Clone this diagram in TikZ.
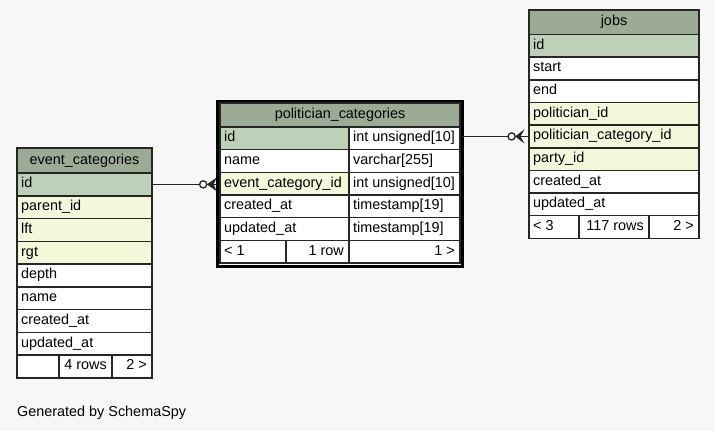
\documentclass[tikz,border=0pt]{standalone}
\usepackage{fontspec}
\setmainfont{Liberation Sans}

\definecolor{bg}{HTML}{F7F7F7}
\definecolor{thead}{HTML}{9BAB96}
\definecolor{pkey}{HTML}{BED1B8}
\definecolor{fkey}{HTML}{F4F7DA}
\definecolor{rule}{HTML}{262626}

\newcommand{\cellfont}{\fontsize{14.4}{16}\selectfont}

\tikzset{
  cellbox/.style={draw=rule, line width=1.5pt, rectangle, anchor=north west,
                  inner sep=0pt, outer sep=0pt},
  celltext/.style={inner sep=0pt, font=\cellfont, text=black},
  conn/.style={draw=rule, line width=1.3pt},
  crowfoot/.style={draw=rule, fill=rule, line width=0.9pt, line join=miter},
  focusframe/.style={draw=black, line width=3.2pt, rectangle, anchor=north west,
                     inner sep=0pt, outer sep=0pt},
}

% cell: name, x, y, width, height, fill
\newcommand{\tcell}[6]{%
  \node[cellbox, fill=#6, minimum width=#4pt, minimum height=#5pt] (#1) at (#2,#3) {};}
% texts placed in a cell: left, right, centred
\newcommand{\ltxt}[2]{\node[celltext, anchor=base west] (#1-t) at ([xshift=4pt,yshift=-3.5pt]#1.west) {#2};}
\newcommand{\rtxt}[2]{\node[celltext, anchor=base east] (#1-t) at ([xshift=-5pt,yshift=-3.5pt]#1.east) {#2};}
\newcommand{\ctxt}[2]{\node[celltext, anchor=base] (#1-t) at ([yshift=-3.5pt]#1.center) {#2};}

\begin{document}
\begin{tikzpicture}[x=1pt, y=-1pt]
  \path[fill=bg] (0,0) rectangle (715,431);
  \useasboundingbox (0,0) rectangle (715,431);

  % ---------------- event_categories ----------------
  \tcell{ec-h}{17}{148}{135}{25}{thead}\ctxt{ec-h}{event\_categories}
  \tcell{ec-id}{17}{173}{135}{22.75}{pkey}\ltxt{ec-id}{id}
  \tcell{ec-par}{17}{195.75}{135}{22.75}{fkey}\ltxt{ec-par}{parent\_id}
  \tcell{ec-lft}{17}{218.5}{135}{22.75}{fkey}\ltxt{ec-lft}{lft}
  \tcell{ec-rgt}{17}{241.25}{135}{22.75}{fkey}\ltxt{ec-rgt}{rgt}
  \tcell{ec-dep}{17}{264}{135}{22.75}{white}\ltxt{ec-dep}{depth}
  \tcell{ec-nam}{17}{286.75}{135}{22.75}{white}\ltxt{ec-nam}{name}
  \tcell{ec-cre}{17}{309.5}{135}{22.75}{white}\ltxt{ec-cre}{created\_at}
  \tcell{ec-upd}{17}{332.25}{135}{22.75}{white}\ltxt{ec-upd}{updated\_at}
  \tcell{ec-f1}{17}{355}{42}{22.75}{white}
  \tcell{ec-f2}{59}{355}{53}{22.75}{white}\rtxt{ec-f2}{4 rows}
  \tcell{ec-f3}{112}{355}{40}{22.75}{white}\rtxt{ec-f3}{2 >}

  % ---------------- politician_categories ----------------
  \node[focusframe, minimum width=245.1pt, minimum height=165.1pt] (pcframe) at (217.2,101.7) {};
  \tcell{pc-h}{220}{103}{240}{24}{thead}\ctxt{pc-h}{politician\_categories}
  \tcell{pc-id}{220}{127}{129}{22.65}{pkey}\ltxt{pc-id}{id}
  \tcell{pc-idty}{349}{127}{111}{22.65}{white}\ltxt{pc-idty}{int unsigned[10]}
  \tcell{pc-nam}{220}{149.65}{129}{22.65}{white}\ltxt{pc-nam}{name}
  \tcell{pc-namty}{349}{149.65}{111}{22.65}{white}\ltxt{pc-namty}{varchar[255]}
  \tcell{pc-ecid}{220}{172.3}{129}{22.65}{fkey}\ltxt{pc-ecid}{event\_category\_id}
  \tcell{pc-ecidty}{349}{172.3}{111}{22.65}{white}\ltxt{pc-ecidty}{int unsigned[10]}
  \tcell{pc-cre}{220}{194.95}{129}{22.65}{white}\ltxt{pc-cre}{created\_at}
  \tcell{pc-crety}{349}{194.95}{111}{22.65}{white}\ltxt{pc-crety}{timestamp[19]}
  \tcell{pc-upd}{220}{217.6}{129}{22.65}{white}\ltxt{pc-upd}{updated\_at}
  \tcell{pc-updty}{349}{217.6}{111}{22.65}{white}\ltxt{pc-updty}{timestamp[19]}
  \tcell{pc-f1}{220}{240.25}{66}{22.65}{white}\ltxt{pc-f1}{< 1}
  \tcell{pc-f2}{286}{240.25}{63}{22.65}{white}\rtxt{pc-f2}{1 row}
  \tcell{pc-f3}{349}{240.25}{111}{22.65}{white}\rtxt{pc-f3}{1 >}

  % ---------------- jobs ----------------
  \tcell{j-h}{529}{10}{170}{24.5}{thead}\ctxt{j-h}{jobs}
  \tcell{j-id}{529}{34.5}{170}{22.65}{pkey}\ltxt{j-id}{id}
  \tcell{j-sta}{529}{57.15}{170}{22.65}{white}\ltxt{j-sta}{start}
  \tcell{j-end}{529}{79.8}{170}{22.65}{white}\ltxt{j-end}{end}
  \tcell{j-pid}{529}{102.45}{170}{22.65}{fkey}\ltxt{j-pid}{politician\_id}
  \tcell{j-pcid}{529}{125.1}{170}{22.65}{fkey}\ltxt{j-pcid}{politician\_category\_id}
  \tcell{j-party}{529}{147.75}{170}{22.65}{fkey}\ltxt{j-party}{party\_id}
  \tcell{j-cre}{529}{170.4}{170}{22.65}{white}\ltxt{j-cre}{created\_at}
  \tcell{j-upd}{529}{193.05}{170}{22.65}{white}\ltxt{j-upd}{updated\_at}
  \tcell{j-f1}{529}{215.7}{50}{22.65}{white}\ltxt{j-f1}{< 3}
  \tcell{j-f2}{579}{215.7}{70}{22.65}{white}\rtxt{j-f2}{117 rows}
  \tcell{j-f3}{649}{215.7}{50}{22.65}{white}\rtxt{j-f3}{2 >}

  % ---------------- relationships ----------------
  % politician_categories.id -> jobs.politician_category_id
  \coordinate (jE) at (j-pcid.west);
  \draw[conn] (pcframe.east |- jE) -- (jE);
  \draw[crowfoot] ([xshift=-13pt]jE) -- ([xshift=-6pt,yshift=5.5pt]jE)
      -- ([xshift=-9pt]jE) -- ([xshift=-6pt,yshift=-5.5pt]jE) -- cycle;
  \draw[conn, fill=bg] ([xshift=-17.4pt]jE) circle[radius=3.6pt];

  % event_categories.id -> politician_categories.event_category_id
  \coordinate (pE) at (pcframe.west |- ec-id.east);
  \draw[conn] (ec-id.east) -- (pE);
  \draw[crowfoot] ([xshift=-9.6pt]pE) -- ([xshift=-1.6pt,yshift=5.5pt]pE)
      -- ([xshift=-4pt]pE) -- ([xshift=-1.6pt,yshift=-5.5pt]pE) -- cycle;
  \draw[conn, fill=bg] ([xshift=-14pt]pE) circle[radius=3.6pt];

  % ---------------- footer ----------------
  \node[celltext, anchor=base west] (gen) at (17,416) {Generated by SchemaSpy};
\end{tikzpicture}
\end{document}
